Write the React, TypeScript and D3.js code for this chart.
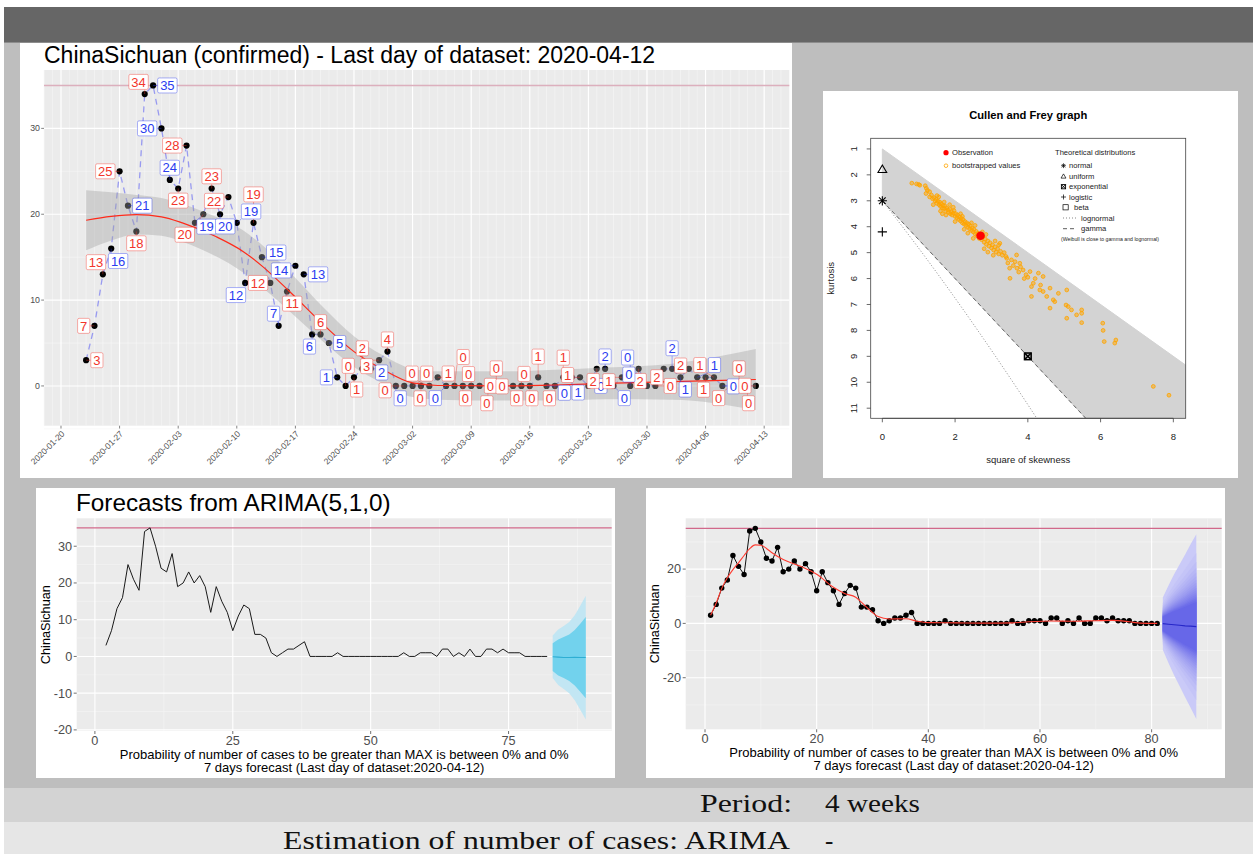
import React, { useMemo } from "react";
import * as d3 from "d3";

// ---------------- DATA ----------------
const seriesStart = "2020-01-23";
const dailyCases = [
  3, 7, 13, 16, 25, 21, 18, 34, 35, 30, 24, 23, 28, 19, 20, 23, 20, 22, 19, 12,
  19, 15, 12, 7, 11, 14, 13, 6, 6, 5, 1, 0, 1, 2, 2, 3, 4, 0, 0, 0,
  0, 0, 1, 0, 0, 0, 0, 0, 0, 0, 0, 0, 0, 0, 1, 0, 0, 1, 1, 1,
  0, 2, 2, 0, 1, 0, 2, 0, 0, 2, 2, 1, 2, 1, 1, 1, 0, 0, 0, 0, 0,
];
const maxCases = 35;
const mainTitle = "ChinaSichuan (confirmed) - Last day of dataset: 2020-04-12";

// loess smoother (days after 2020-01-23)
const smoothDays = [0, 3, 6, 9, 11.5, 15.5, 18.7, 21.1, 24.3, 28.5, 32, 35.3, 39, 42, 50, 56, 62, 70, 80];
const smoothFit = [19.3, 19.75, 19.95, 19.7, 19.0, 17.4, 15.7, 13.9, 11.0, 7.0, 4.0, 2.0, 0.35, 0.05, 0.0, 0.1, 0.3, 0.5, 0.75];
const smoothLo = [15.8, 16.95, 17.65, 17.5, 16.8, 15.1, 13.25, 11.45, 8.7, 5.0, 2.2, 0.35, -1.3, -1.6, -1.7, -1.7, -1.55, -1.6, -2.8];
const smoothHi = [22.8, 22.55, 22.25, 21.9, 21.2, 19.7, 18.15, 16.35, 13.3, 9.0, 5.8, 3.65, 2.0, 1.7, 1.7, 1.9, 2.15, 2.6, 4.3];

// ARIMA(5,1,0) forecast (bottom-left)
const arimaTitle = "Forecasts from ARIMA(5,1,0)";
const arimaSeriesStart = 2;
const arimaFcStart = 83;
const arimaMean = [-0.1, -0.2, -0.3, -0.3, -0.25, -0.3, -0.3];
const arimaHi95 = [5.7, 7.3, 8.3, 9.4, 11.2, 13.8, 16.5];
const arimaLo95 = [-5.9, -7.8, -8.9, -10.0, -11.9, -14.5, -17.2];
const arimaHi80 = [3.6, 4.6, 5.3, 6.0, 7.2, 8.9, 10.7];
const arimaLo80 = [-4.0, -5.2, -5.9, -6.7, -7.9, -9.6, -11.4];

// fan forecast (bottom-right)
const fanSeriesStart = 1;
const fanFcStart = 82;
const fanMean = [-0.1, -0.3, -0.5, -0.7, -0.9, -1.0, -1.2];
const fanOuter99 = [9.6, 14.2, 18.5, 22.4, 26.3, 30.2, 34.0];
const fanLevels = d3.range(51, 100, 3);
const fitKnotX = [1, 2, 3, 4, 5, 6, 7, 8, 9, 10, 11, 12, 14, 17, 20, 23, 25, 27, 28, 30, 31, 33, 36, 38, 40, 45, 50, 55, 58, 62, 66, 70, 73, 76, 78, 81];
const fitKnotY = [3.0, 7.5, 12.9, 16.8, 19.8, 22.3, 25.0, 27.5, 28.9, 28.8, 27.6, 26.0, 23.5, 21.1, 18.1, 13.3, 11.0, 9.6, 7.8, 4.0, 2.5, 1.6, 1.7, 0.8, 0.3, 0.2, 0.1, 0.2, 0.6, 0.9, 0.8, 1.0, 1.1, 0.6, 0.1, 0.0];

const xTitle1 = "Probability of number of cases to be greater than MAX is between 0% and 0%";
const xTitle2 = "7 days forecast (Last day of dataset:2020-04-12)";

// Cullen and Frey
const cfObservation = [2.7, 4.35];
const cfNormal = [0, 3];
const cfUniform = [0, 1.8];
const cfLogistic = [0, 4.2];
const cfExponential = [4, 9];
const cfBoot = [
  [0.81, 2.32], [0.94, 2.35], [1.0, 2.37], [1.03, 2.4], [1.18, 2.42], [1.21, 2.52], [1.24, 2.6], [1.2, 2.72],
  [1.3, 2.85], [1.35, 2.78], [1.38, 2.92], [1.42, 2.88], [1.45, 3.0], [1.48, 2.95], [1.5, 3.1], [1.53, 3.02],
  [1.56, 3.15], [1.58, 3.05], [1.6, 3.22], [1.62, 3.12], [1.65, 3.28], [1.67, 3.18], [1.7, 3.3], [1.72, 3.2],
  [1.74, 3.4], [1.77, 3.28], [1.8, 3.35], [1.82, 3.45], [1.85, 3.32], [1.87, 3.5], [1.9, 3.42], [1.92, 3.55],
  [1.95, 3.48], [1.97, 3.38], [2.0, 3.6], [2.02, 3.5], [2.05, 3.65], [2.07, 3.55], [2.1, 3.72], [2.12, 3.62],
  [2.15, 3.78], [2.17, 3.68], [2.2, 3.85], [2.22, 3.72], [2.25, 3.9], [2.27, 3.8], [2.3, 3.95], [2.32, 3.85],
  [2.35, 4.02], [2.37, 3.9], [2.4, 4.08], [2.42, 3.97], [2.45, 4.15], [2.47, 4.05], [2.5, 4.2], [2.52, 4.1],
  [2.55, 4.28], [2.58, 4.18], [2.6, 4.35], [2.63, 4.25], [2.66, 4.45], [2.7, 4.3], [2.73, 4.5], [2.76, 4.4],
  [2.8, 4.6], [2.83, 4.48], [2.86, 4.68], [2.9, 4.55], [2.93, 4.75], [2.96, 4.62], [3.0, 4.82], [3.03, 4.7],
  [3.06, 4.9], [3.1, 4.78], [3.13, 4.98], [3.17, 4.85], [3.2, 5.05], [3.25, 4.95], [3.3, 5.1], [3.35, 5.0], [3.4, 5.15],
  [1.4, 3.15], [1.6, 3.4], [1.75, 3.55], [2.0, 3.8], [2.25, 4.1], [2.5, 4.45], [2.8, 4.85], [3.05, 5.1],
  [2.9, 4.98], [1.55, 2.85], [1.85, 3.15], [2.15, 3.5], [2.45, 3.85], [2.75, 4.2], [3.1, 4.55], [1.3, 2.65],
  [1.5, 2.8], [1.7, 3.05], [1.95, 3.25], [2.2, 3.6], [2.55, 3.95], [2.35, 4.25], [1.65, 3.5], [2.85, 4.3], [3.2, 4.7],
  [3.23, 4.64], [3.42, 5.22], [3.55, 5.28], [3.69, 5.09], [3.78, 5.41], [3.87, 5.67], [3.51, 5.99], [4.06, 5.73],
  [4.29, 5.79], [4.42, 5.92], [4.15, 6.18], [4.1, 6.31], [4.33, 6.44], [4.42, 6.5], [4.61, 6.37], [4.52, 6.69],
  [4.7, 6.82], [4.84, 6.57], [4.61, 7.14], [4.74, 6.89], [4.1, 6.69], [5.07, 6.44], [5.05, 7.02], [5.11, 7.08],
  [5.2, 7.21], [5.07, 7.53], [5.34, 7.4], [5.48, 7.21], [5.48, 7.34], [5.48, 7.7], [6.06, 7.72], [6.07, 8.0],
  [6.1, 8.43], [6.42, 8.37], [6.39, 8.49], [7.45, 10.16], [7.88, 10.5],
  [3.45, 5.4], [3.6, 5.5], [3.7, 5.6], [3.8, 5.55], [3.65, 5.35], [3.95, 5.85], [3.9, 6.0], [4.0, 5.95],
  [3.75, 5.75], [3.5, 5.6], [4.2, 6.0], [4.35, 6.25],
];
const cfXTicks = [0, 2, 4, 6, 8];
const cfYTicks = [1, 2, 3, 4, 5, 6, 7, 8, 9, 10, 11];

const footerPeriodLabel = "Period:";
const footerPeriodValue = "4 weeks";
const footerEstLabel = "Estimation of number of cases: ARIMA";
const footerEstValue = "-";

// ---------------- HELPERS ----------------
const SANS = "'Liberation Sans', Arial, Helvetica, sans-serif";
const DAY = 86400000;
const PANEL_BG = "#EBEBEB";

function qnorm(p: number) {
  const a = [-3.969683028665376e1, 2.209460984245205e2, -2.759285104469687e2, 1.38357751867269e2, -3.066479806614716e1, 2.506628277459239];
  const b = [-5.447609879822406e1, 1.615858368580409e2, -1.556989798598866e2, 6.680131188771972e1, -1.328068155288572e1];
  const c = [-7.784894002430293e-3, -3.223964580411365e-1, -2.400758277161838, -2.549671010243031, 4.374664141464968, 2.938163982698783];
  const d = [7.784695709041462e-3, 3.224671290700398e-1, 2.445134137142996, 3.754408661907416];
  const pl = 0.02425;
  let q, r;
  if (p < pl) {
    q = Math.sqrt(-2 * Math.log(p));
    return (((((c[0] * q + c[1]) * q + c[2]) * q + c[3]) * q + c[4]) * q + c[5]) / ((((d[0] * q + d[1]) * q + d[2]) * q + d[3]) * q + 1);
  }
  if (p <= 1 - pl) {
    q = p - 0.5;
    r = q * q;
    return ((((((a[0] * r + a[1]) * r + a[2]) * r + a[3]) * r + a[4]) * r + a[5]) * q) / (((((b[0] * r + b[1]) * r + b[2]) * r + b[3]) * r + b[4]) * r + 1);
  }
  q = Math.sqrt(-2 * Math.log(1 - p));
  return -(((((c[0] * q + c[1]) * q + c[2]) * q + c[3]) * q + c[4]) * q + c[5]) / ((((d[0] * q + d[1]) * q + d[2]) * q + d[3]) * q + 1);
}

type Lab = { x: number; y: number; px: number; py: number; w: number; h: number; text: string; color: string };

function repel(labels: Lab[], pts: { x: number; y: number }[], bounds: number[]) {
  const [L, T, R, B] = bounds;
  const n = labels.length;
  const padL = 3, padP = 5;
  for (let iter = 0; iter < 800; iter++) {
    const damp = iter < 550 ? 1 : 0.5;
    for (let i = 0; i < n; i++) {
      const a = labels[i];
      let fx = 0,
        fy = 0;
      for (let j = 0; j < n; j++) {
        if (i === j) continue;
        const b = labels[j];
        const ox = (a.w + b.w) / 2 + padL - Math.abs(a.x - b.x);
        const oy = (a.h + b.h) / 2 + padL - Math.abs(a.y - b.y);
        if (ox > 0 && oy > 0) {
          if (ox < oy) {
            const s = a.x === b.x ? (i < j ? -1 : 1) : a.x > b.x ? 1 : -1;
            fx += s * ox * 0.3;
          } else {
            const s = a.y === b.y ? (i < j ? -1 : 1) : a.y > b.y ? 1 : -1;
            fy += s * oy * 0.3;
          }
        }
      }
      for (let k = 0; k < pts.length; k++) {
        const p = pts[k];
        const ox = a.w / 2 + padP - Math.abs(a.x - p.x);
        const oy = a.h / 2 + padP - Math.abs(a.y - p.y);
        if (ox > 0 && oy > 0) {
          if (ox < oy) {
            const s = a.x === p.x ? (i % 2 ? 1 : -1) : a.x > p.x ? 1 : -1;
            fx += s * ox * 0.35;
          } else {
            const s = a.y === p.y ? (i % 2 ? 1 : -1) : a.y > p.y ? 1 : -1;
            fy += s * oy * 0.35;
          }
        }
      }
      fx += (a.px - a.x) * 0.01;
      fy += (a.py - a.y) * 0.01;
      a.x += fx * damp;
      a.y += fy * damp;
      a.x = Math.max(L + a.w / 2, Math.min(R - a.w / 2, a.x));
      a.y = Math.max(T + a.h / 2, Math.min(B - a.h / 2, a.y));
    }
  }
  return labels;
}

// ---------------- TOP CHART ----------------
function TopChart() {
  const L = 44, R = 789.3, T = 70, B = 425.7;
  const origin = Date.UTC(2020, 0, 20);
  const start = Date.parse(seriesStart + "T00:00:00Z");
  const x = d3.scaleUtc().domain([new Date(origin - 2.03 * DAY), new Date(origin + 87 * DAY)]).range([L, R]);
  const y = d3.scaleLinear().domain([-4.63, 36.8]).range([B, T]);
  const [d0, d1] = x.domain();
  const majorX = d3.utcMonday.range(d0, d1);
  const minorX = d3.utcDay.range(d0, d1);
  const majorY = [0, 10, 20, 30];
  const minorY = [-5, 5, 15, 25, 35];
  const fmt = d3.utcFormat("%Y-%m-%d");

  const pts = dailyCases.map((v, i) => ({ v, x: x(new Date(start + i * DAY)), y: y(v) }));
  const colors = dailyCases.map((v, i) => {
    if (i < 2) return "red";
    const dNow = v - dailyCases[i - 1];
    const dPrev = dailyCases[i - 1] - dailyCases[i - 2];
    return dNow >= dPrev ? "red" : "blue";
  });

  const labels = useMemo(() => {
    const labs: Lab[] = pts.map((p, i) => {
      const ang = i * 2.39996;
      const text = String(p.v);
      const w = text.length * 7.2 + 5;
      return { x: p.x + Math.cos(ang) * 14, y: p.y + Math.sin(ang) * 14, px: p.x, py: p.y, w, h: 15, text, color: colors[i] };
    });
    return repel(labs, pts, [L, T, R, B]);
  }, []);

  const smoothDates = smoothDays.map((d) => start + d * DAY);
  const line = d3.line<any>().x((d) => d[0]).y((d) => d[1]);
  const smoothLine = d3
    .line<number>()
    .x((_, i) => x(new Date(smoothDates[i])))
    .y((d) => y(d))
    .curve(d3.curveMonotoneX);
  const band = d3
    .area<number>()
    .x((_, i) => x(new Date(smoothDates[i])))
    .y0((_, i) => y(smoothLo[i]))
    .y1((_, i) => y(smoothHi[i]))
    .curve(d3.curveMonotoneX);

  const txtRed = "#f2352b";
  const txtBlue = "#2a3cf0";

  return (
    <g>
      <rect x={20} y={43} width={772} height={435} fill="white" />
      <text x={L} y={63} fontFamily={SANS} fontSize={23} fill="#000">{mainTitle}</text>
      <rect x={L} y={T} width={R - L} height={B - T} fill={PANEL_BG} />
      {minorX.map((d, i) => (
        <line key={"mx" + i} x1={x(d)} x2={x(d)} y1={T} y2={B} stroke="#f6f6f6" strokeWidth={0.6} />
      ))}
      {minorY.map((v) => (
        <line key={"my" + v} x1={L} x2={R} y1={y(v)} y2={y(v)} stroke="#f6f6f6" strokeWidth={0.6} />
      ))}
      {majorX.map((d, i) => (
        <line key={"Mx" + i} x1={x(d)} x2={x(d)} y1={T} y2={B} stroke="white" strokeWidth={1.1} />
      ))}
      {majorY.map((v) => (
        <line key={"My" + v} x1={L} x2={R} y1={y(v)} y2={y(v)} stroke="white" strokeWidth={1.1} />
      ))}
      <line x1={L} x2={R} y1={y(maxCases)} y2={y(maxCases)} stroke="#dcafbd" strokeWidth={1.6} />
      <path d={line(pts.map((p) => [p.x, p.y])) || ""} fill="none" stroke="#7c7ff2" strokeOpacity={0.75} strokeWidth={1.3} strokeDasharray="6,5" />
      {pts.map((p, i) => (
        <circle key={"p" + i} cx={p.x} cy={p.y} r={3.1} fill="#000" />
      ))}
      <path d={band(smoothFit) || ""} fill="#a3a3a3" fillOpacity={0.4} />
      <path d={smoothLine(smoothFit) || ""} fill="none" stroke="#ff2a1a" strokeWidth={1.2} />
      {labels.map((l, i) => {
        const bx = Math.max(l.x - l.w / 2, Math.min(l.x + l.w / 2, l.px));
        const by = Math.max(l.y - l.h / 2, Math.min(l.y + l.h / 2, l.py));
        const dist = Math.hypot(bx - l.px, by - l.py);
        const c = l.color === "red" ? txtRed : txtBlue;
        return dist > 4 ? (
          <line key={"s" + i} x1={l.px} y1={l.py} x2={bx} y2={by} stroke={c} strokeOpacity={0.7} strokeWidth={0.6} />
        ) : null;
      })}
      {labels.map((l, i) => {
        const c = l.color === "red" ? txtRed : txtBlue;
        return (
          <g key={"l" + i}>
            <rect x={l.x - l.w / 2} y={l.y - l.h / 2} width={l.w} height={l.h} rx={1.5} fill="white" stroke={c} strokeOpacity={0.4} strokeWidth={1} />
            <text x={l.x} y={l.y + 4.7} textAnchor="middle" fontFamily={SANS} fontSize={13} fill={c}>{l.text}</text>
          </g>
        );
      })}
      {majorY.map((v) => (
        <g key={"yt" + v}>
          <line x1={L - 2.8} x2={L} y1={y(v)} y2={y(v)} stroke="#333" strokeWidth={0.6} />
          <text x={L - 4} y={y(v) + 3} textAnchor="end" fontFamily={SANS} fontSize={8.8} fill="#4d4d4d">{v}</text>
        </g>
      ))}
      {majorX.map((d, i) => (
        <g key={"xt" + i}>
          <line x1={x(d)} x2={x(d)} y1={B} y2={B + 2.8} stroke="#333" strokeWidth={0.6} />
          <text transform={`translate(${x(d) + 2},${B + 6.5}) rotate(-45)`} textAnchor="end" fontFamily={SANS} fontSize={8.5} fill="#4d4d4d" dy="0.35em">{fmt(d)}</text>
        </g>
      ))}
    </g>
  );
}

// ---------------- CULLEN & FREY ----------------
function CullenFrey() {
  const FL = 870.7, FR = 1185.7, FT = 138.3, FB = 418.3;
  const x = d3.scaleLinear().domain([-0.32, 8.34]).range([FL, FR]);
  const y = d3.scaleLinear().domain([0.59, 11.39]).range([FT, FB]);
  const kMax = 11.39;
  const polygon = [
    [0, 1], [kMax - 1, kMax], [(kMax - 3) / 1.5, kMax], [0, 3],
  ].map((p) => [x(p[0]), y(p[1])]);
  const logn: number[][] = [];
  for (let w = 1; w <= 1.4; w += 0.002) {
    logn.push([x((w + 2) * (w + 2) * (w - 1)), y(w ** 4 + 2 * w ** 3 + 3 * w * w - 3)]);
  }
  const line = d3.line<any>();
  const cx = (FL + FR) / 2;
  const star = (px: number, py: number, s: number, sw: number) => (
    <g stroke="#000" strokeWidth={sw}>
      <line x1={px - s} x2={px + s} y1={py} y2={py} />
      <line x1={px} x2={px} y1={py - s} y2={py + s} />
      <line x1={px - s * 0.72} x2={px + s * 0.72} y1={py - s * 0.72} y2={py + s * 0.72} />
      <line x1={px - s * 0.72} x2={px + s * 0.72} y1={py + s * 0.72} y2={py - s * 0.72} />
    </g>
  );
  const tri = (px: number, py: number, s: number, sw: number) => (
    <path d={`M${px},${py - s}L${px + s * 0.95},${py + s * 0.62}L${px - s * 0.95},${py + s * 0.62}Z`} fill="none" stroke="#000" strokeWidth={sw} />
  );
  const plus = (px: number, py: number, s: number, sw: number) => (
    <g stroke="#000" strokeWidth={sw}>
      <line x1={px - s} x2={px + s} y1={py} y2={py} />
      <line x1={px} x2={px} y1={py - s} y2={py + s} />
    </g>
  );
  const boxx = (px: number, py: number, s: number, sw: number) => (
    <g stroke="#000" strokeWidth={sw} fill="none">
      <rect x={px - s} y={py - s} width={2 * s} height={2 * s} />
      <line x1={px - s} x2={px + s} y1={py - s} y2={py + s} />
      <line x1={px - s} x2={px + s} y1={py + s} y2={py - s} />
    </g>
  );
  const lf = 7.6;
  const lx = 1069;
  return (
    <g>
      <rect x={823} y={91} width={415} height={387} fill="white" />
      <text x={cx} y={119.3} textAnchor="middle" fontFamily={SANS} fontWeight="bold" fontSize={11.2}>Cullen and Frey graph</text>
      <defs>
        <clipPath id="cfclip">
          <rect x={FL} y={FT} width={FR - FL} height={FB - FT} />
        </clipPath>
      </defs>
      <g clipPath="url(#cfclip)">
        <path d={line(polygon as any) + "Z"} fill="#d3d3d3" stroke="#d3d3d3" />
        <path d={line(logn as any) || ""} fill="none" stroke="#555" strokeWidth={0.7} strokeDasharray="1,2" />
        <line x1={x(0)} y1={y(3)} x2={x((kMax - 3) / 1.5)} y2={y(kMax)} stroke="#444" strokeWidth={0.8} strokeDasharray="4,3" />
        {cfBoot.map((p, i) => (
          <circle key={i} cx={x(p[0])} cy={y(p[1])} r={1.9} fill="orange" fillOpacity={0.5} stroke="orange" strokeWidth={0.8} />
        ))}
        <circle cx={x(cfObservation[0])} cy={y(cfObservation[1])} r={4.3} fill="red" />
        {tri(x(cfUniform[0]), y(cfUniform[1]), 4.6, 1.1)}
        {star(x(cfNormal[0]), y(cfNormal[1]), 4.6, 1.1)}
        {plus(x(cfLogistic[0]), y(cfLogistic[1]), 4.6, 1.1)}
        {boxx(x(cfExponential[0]), y(cfExponential[1]), 3.3, 1.6)}
      </g>
      <rect x={FL} y={FT} width={FR - FL} height={FB - FT} fill="none" stroke="#444" strokeWidth={0.8} />
      {cfXTicks.map((t) => (
        <g key={"cx" + t}>
          <line x1={x(t)} x2={x(t)} y1={FB} y2={FB + 4} stroke="#444" strokeWidth={0.8} />
          <text x={x(t)} y={440} textAnchor="middle" fontFamily={SANS} fontSize={9.5} fill="#222">{t}</text>
        </g>
      ))}
      <line x1={x(0)} x2={x(8)} y1={FB} y2={FB} stroke="#444" strokeWidth={0.8} />
      {cfYTicks.map((t) => (
        <g key={"cy" + t}>
          <line x1={FL - 4} x2={FL} y1={y(t)} y2={y(t)} stroke="#444" strokeWidth={0.8} />
          <text transform={`translate(${857},${y(t)}) rotate(-90)`} textAnchor="middle" fontFamily={SANS} fontSize={9.5} fill="#222">{t}</text>
        </g>
      ))}
      <text x={cx} y={462.5} textAnchor="middle" fontFamily={SANS} fontSize={9.5} fill="#222">square of skewness</text>
      <text transform={`translate(834,${(FT + FB) / 2}) rotate(-90)`} textAnchor="middle" fontFamily={SANS} fontSize={9.5} fill="#222">kurtosis</text>
      {/* legend */}
      <circle cx={946} cy={152.7} r={2.6} fill="red" />
      <text x={952} y={155.4} fontFamily={SANS} fontSize={lf} fill="#222">Observation</text>
      <circle cx={946} cy={165.7} r={1.8} fill="none" stroke="orange" strokeWidth={0.8} />
      <text x={952} y={168.4} fontFamily={SANS} fontSize={lf} fill="#222">bootstrapped values</text>
      <text x={1055} y={155.4} fontFamily={SANS} fontSize={lf} fill="#222">Theoretical distributions</text>
      {star(1063.5, 165.7, 2.4, 0.7)}
      <text x={lx} y={168.4} fontFamily={SANS} fontSize={lf} fill="#222">normal</text>
      {tri(1063.5, 176.5, 2.6, 0.7)}
      <text x={lx} y={179} fontFamily={SANS} fontSize={lf} fill="#222">uniform</text>
      {boxx(1063.5, 186.7, 2.1, 0.9)}
      <text x={lx} y={189.4} fontFamily={SANS} fontSize={lf} fill="#222">exponential</text>
      {plus(1063.5, 197, 2.5, 0.7)}
      <text x={lx} y={199.7} fontFamily={SANS} fontSize={lf} fill="#222">logistic</text>
      <rect x={1063} y={204.7} width={5.2} height={5.2} fill="none" stroke="#000" strokeWidth={0.7} />
      <text x={1074} y={210} fontFamily={SANS} fontSize={lf} fill="#222">beta</text>
      <line x1={1063} x2={1076} y1={218} y2={218} stroke="#555" strokeWidth={0.7} strokeDasharray="1,2" />
      <text x={1081} y={220.7} fontFamily={SANS} fontSize={lf} fill="#222">lognormal</text>
      <line x1={1063} x2={1076} y1={228.7} y2={228.7} stroke="#333" strokeWidth={0.8} strokeDasharray="4,3" />
      <text x={1081} y={231.4} fontFamily={SANS} fontSize={lf} fill="#222">gamma</text>
      <text x={1061} y={240.5} fontFamily={SANS} fontSize={5.2} fill="#222">(Weibull is close to gamma and lognormal)</text>
    </g>
  );
}

// ---------------- BOTTOM CHARTS ----------------
function GGPanel(props: any) {
  const { L, R, T, B, x, y, xMajor, xMinor, yMajor, yMinor, cxTitle } = props;
  return (
    <g>
      <rect x={L} y={T} width={R - L} height={B - T} fill={PANEL_BG} />
      {xMinor.map((v: number) => (
        <line key={"xm" + v} x1={x(v)} x2={x(v)} y1={T} y2={B} stroke="#f5f5f5" strokeWidth={0.6} />
      ))}
      {yMinor.map((v: number) => (
        <line key={"ym" + v} x1={L} x2={R} y1={y(v)} y2={y(v)} stroke="#f5f5f5" strokeWidth={0.6} />
      ))}
      {xMajor.map((v: number) => (
        <line key={"xM" + v} x1={x(v)} x2={x(v)} y1={T} y2={B} stroke="white" strokeWidth={1.1} />
      ))}
      {yMajor.map((v: number) => (
        <line key={"yM" + v} x1={L} x2={R} y1={y(v)} y2={y(v)} stroke="white" strokeWidth={1.1} />
      ))}
      {yMajor.map((v: number) => (
        <g key={"yt" + v}>
          <line x1={L - 3} x2={L} y1={y(v)} y2={y(v)} stroke="#333" strokeWidth={0.7} />
          <text x={L - 4.5} y={y(v) + 4.4} textAnchor="end" fontFamily={SANS} fontSize={12.7} fill="#4d4d4d">{v}</text>
        </g>
      ))}
      {xMajor.map((v: number) => (
        <g key={"xt" + v}>
          <line x1={x(v)} x2={x(v)} y1={B} y2={B + 3} stroke="#333" strokeWidth={0.7} />
          <text x={x(v)} y={B + 14} textAnchor="middle" fontFamily={SANS} fontSize={12.7} fill="#4d4d4d">{v}</text>
        </g>
      ))}
      <text transform={`translate(${L - 27},${(T + B) / 2}) rotate(-90)`} textAnchor="middle" fontFamily={SANS} fontSize={12.7} fill="#000">ChinaSichuan</text>
      <text x={cxTitle} y={B + 27.5} textAnchor="middle" fontFamily={SANS} fontSize={13} fill="#000">{xTitle1}</text>
      <text x={cxTitle} y={B + 41} textAnchor="middle" fontFamily={SANS} fontSize={13} fill="#000">{xTitle2}</text>
    </g>
  );
}

function ArimaChart() {
  const L = 76.7, R = 611.7, T = 518.3, B = 731;
  const x = d3.scaleLinear().domain([-3.3, 93.7]).range([L, R]);
  const y = d3.scaleLinear().domain([-20.3, 37.6]).range([B, T]);
  const fx = arimaMean.map((_, i) => arimaFcStart + i);
  const area = (lo: number[], hi: number[]) =>
    d3.area<number>().x((d) => x(d)).y0((_, i) => y(lo[i])).y1((_, i) => y(hi[i]))(fx) || "";
  const obs = d3.line<number>().x((_, i) => x(arimaSeriesStart + i)).y((d) => y(d))(dailyCases) || "";
  const mean = d3.line<number>().x((_, i) => x(fx[i])).y((d) => y(d))(arimaMean) || "";
  return (
    <g>
      <rect x={36} y={488} width={579} height={290} fill="white" />
      <text x={76} y={511} fontFamily={SANS} fontSize={24.3} fill="#000">{arimaTitle}</text>
      <GGPanel L={L} R={R} T={T} B={B} x={x} y={y} xMajor={[0, 25, 50, 75]} xMinor={[12.5, 37.5, 62.5, 87.5]} yMajor={[-20, -10, 0, 10, 20, 30]} yMinor={[-15, -5, 5, 15, 25, 35]} cxTitle={(L + R) / 2} />
      <line x1={L} x2={R} y1={y(maxCases)} y2={y(maxCases)} stroke="#d1688a" strokeWidth={1.3} />
      <path d={obs} fill="none" stroke="#1a1a1a" strokeWidth={1} />
      <path d={area(arimaLo95, arimaHi95)} fill="#c2e6f3" />
      <path d={area(arimaLo80, arimaHi80)} fill="#72d2ed" />
      <path d={mean} fill="none" stroke="#2eaed3" strokeWidth={1.1} />
    </g>
  );
}

function FanChart() {
  const L = 685.7, R = 1221.7, T = 518.3, B = 729.3;
  const x = d3.scaleLinear().domain([-3.46, 92.55]).range([L, R]);
  const y = d3.scaleLinear().domain([-39.0, 38.7]).range([B, T]);
  const fx = fanMean.map((_, i) => fanFcStart + i);
  const z99 = qnorm(0.995);
  const levels = [...fanLevels].sort((a, b) => b - a);
  const col = d3.interpolateRgb("#cacaf8", "#6767e8");
  const obs = d3.line<number>().x((_, i) => x(fanSeriesStart + i)).y((d) => y(d))(dailyCases) || "";
  const fit = d3.line<number>().x((_, i) => x(fitKnotX[i])).y((d) => y(d)).curve(d3.curveMonotoneX)(fitKnotY) || "";
  const mean = d3.line<number>().x((_, i) => x(fx[i])).y((d) => y(d))(fanMean) || "";
  return (
    <g>
      <rect x={646} y={488} width={579} height={290} fill="white" />
      <GGPanel L={L} R={R} T={T} B={B} x={x} y={y} xMajor={[0, 20, 40, 60, 80]} xMinor={[10, 30, 50, 70, 90]} yMajor={[-20, 0, 20]} yMinor={[-30, -10, 10, 30]} cxTitle={(L + R) / 2} />
      <line x1={L} x2={R} y1={y(maxCases)} y2={y(maxCases)} stroke="#d1688a" strokeWidth={1.3} />
      <path d={obs} fill="none" stroke="#111" strokeWidth={1} />
      {dailyCases.map((v, i) => (
        <circle key={i} cx={x(fanSeriesStart + i)} cy={y(v)} r={2.7} fill="#000" />
      ))}
      <path d={fit} fill="none" stroke="#ff3b30" strokeWidth={1.1} />
      {levels.map((lv, k) => {
        const zq = qnorm(0.5 + lv / 200) / z99;
        const d =
          d3
            .area<number>()
            .x((v) => x(v))
            .y0((_, i) => y(fanMean[i] - fanOuter99[i] * zq))
            .y1((_, i) => y(fanMean[i] + fanOuter99[i] * zq))(fx) || "";
        return <path key={lv} d={d} fill={col(k / (levels.length - 1))} />;
      })}
      <path d={mean} fill="none" stroke="#2626c8" strokeWidth={1.1} />
    </g>
  );
}

// ---------------- FOOTER ----------------
function Footer() {
  const SERIF = "'Liberation Serif', 'DejaVu Serif', serif";
  return (
    <g>
      <rect x={4} y={788} width={1249} height={34} fill="#d3d3d3" />
      <rect x={4} y={822} width={1249} height={32} fill="#e6e6e6" />
      <text x={700} y={812} fontFamily={SERIF} fontSize={25} textLength={92} lengthAdjust="spacingAndGlyphs" fill="#111">{footerPeriodLabel}</text>
      <text x={825} y={812} fontFamily={SERIF} fontSize={25} textLength={95} lengthAdjust="spacingAndGlyphs" fill="#111">{footerPeriodValue}</text>
      <text x={283} y={849} fontFamily={SERIF} fontSize={25} textLength={507} lengthAdjust="spacingAndGlyphs" fill="#111">{footerEstLabel}</text>
      <text x={825} y={849} fontFamily={SERIF} fontSize={25} fill="#111">{footerEstValue}</text>
    </g>
  );
}

export default function App() {
  return (
    <svg width={1253} height={854} style={{ position: "absolute", left: 0, top: 0, background: "white" }}>
      <rect x={0} y={0} width={1253} height={854} fill="white" />
      <rect x={4} y={42.7} width={1249} height={812} fill="#bebebe" />
      <rect x={4} y={7} width={1249} height={35.7} fill="#666666" />
      <TopChart />
      <CullenFrey />
      <ArimaChart />
      <FanChart />
      <Footer />
    </svg>
  );
}
